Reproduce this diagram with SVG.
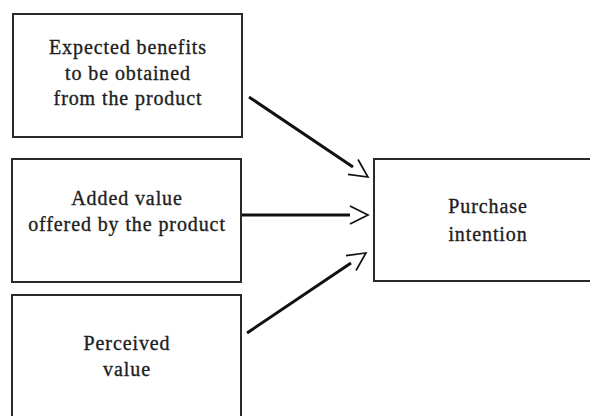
<svg xmlns="http://www.w3.org/2000/svg" width="590" height="416" viewBox="0 0 590 416">
<defs>
<style>
.box{fill:#fff;stroke:#2a2a2a;stroke-width:2}
.t{font-family:"Liberation Serif","Times New Roman",serif;font-size:20px;letter-spacing:0.9px;fill:#1e1e1e;stroke:#1e1e1e;stroke-width:0.35;text-anchor:middle}
.c{stroke:#111;stroke-width:3;fill:none;marker-end:url(#ah)}
</style>
<marker id="ah" markerUnits="userSpaceOnUse" markerWidth="24" markerHeight="24" viewBox="-2 -12 24 24" refX="0" refY="0" orient="auto" overflow="visible">
<path d="M0,-9 L18,0 L0,9" fill="none" stroke="#111" stroke-width="1.7"/>
</marker>
</defs>
<rect width="590" height="416" fill="#fff"/>
<g id="n1">
<rect class="box" x="13" y="14" width="229" height="123"/>
<text class="t" x="128" y="54">Expected benefits</text>
<text class="t" x="128" y="80">to be obtained</text>
<text class="t" x="128" y="105">from the product</text>
</g>
<g id="n2">
<rect class="box" x="12" y="159" width="229" height="123"/>
<text class="t" x="127" y="205">Added value</text>
<text class="t" x="127" y="231">offered by the product</text>
</g>
<g id="n3">
<rect class="box" x="12" y="295" width="229" height="140"/>
<text class="t" x="127" y="350">Perceived</text>
<text class="t" x="127" y="376">value</text>
</g>
<g id="n4">
<rect class="box" x="374" y="159" width="230" height="122"/>
<text class="t" x="488" y="213">Purchase</text>
<text class="t" x="488" y="241">intention</text>
</g>
<g id="connectors">
<path class="c" d="M249,97 L353,167"/>
<path class="c" d="M242,215 L350,215"/>
<path class="c" d="M247,333 L351,263"/>
</g>
</svg>
